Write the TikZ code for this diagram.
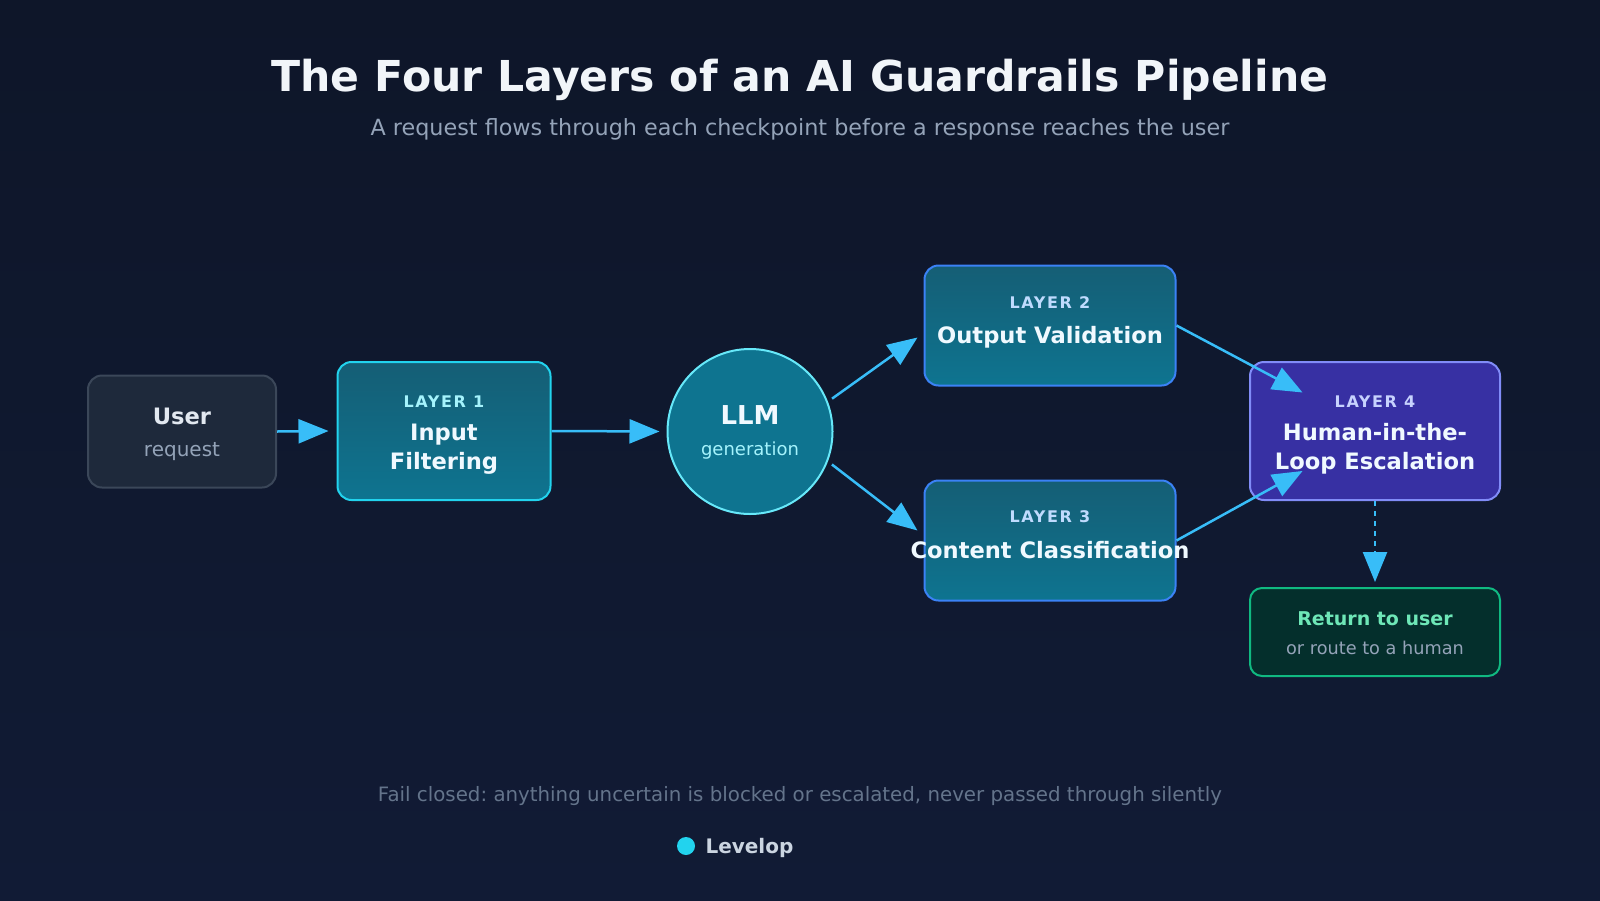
\documentclass[tikz,border=0pt]{standalone}
\usepackage{fontspec}
\setmainfont{DejaVu Sans}
\newfontfamily\layerfont[LetterSpace=10]{DejaVu Sans}
\usetikzlibrary{arrows.meta,calc}
\frenchspacing
\definecolor{bgtop}{HTML}{0E1629}
\definecolor{bgbot}{HTML}{111B35}
\definecolor{titlec}{HTML}{F1F5F9}
\definecolor{subc}{HTML}{94A3B8}
\definecolor{footc}{HTML}{64748B}
\definecolor{brandc}{HTML}{CBD5E1}
\definecolor{logoc}{HTML}{22D3EE}
\definecolor{userfill}{HTML}{1E293B}
\definecolor{userline}{HTML}{3B4759}
\definecolor{usertext}{HTML}{E2E8F0}
\definecolor{tealtop}{HTML}{155E75}
\definecolor{tealbot}{HTML}{0E7490}
\definecolor{cyanline}{HTML}{22D3EE}
\definecolor{llmline}{HTML}{67E8F9}
\definecolor{blueline}{HTML}{3B82F6}
\definecolor{lbcyan}{HTML}{A5F3FC}
\definecolor{lbblue}{HTML}{BFDBFE}
\definecolor{lbindigo}{HTML}{C7D2FE}
\definecolor{indfill}{HTML}{3730A3}
\definecolor{indline}{HTML}{818CF8}
\definecolor{retfill}{HTML}{042F2C}
\definecolor{retline}{HTML}{10B981}
\definecolor{rettext}{HTML}{6EE7B7}
\definecolor{boxtext}{HTML}{F0F9FF}
\definecolor{arrowc}{HTML}{38BDF8}
\tikzset{
  box/.style={draw, line width=2pt, rounded corners=14pt, inner sep=0pt},
  teal/.style={box, top color=tealtop, bottom color=tealbot},
  arr/.style={draw=arrowc, line width=2.5pt, -{Triangle[length=30pt,width=24pt]}},
  lay/.style={anchor=base, font=\layerfont\bfseries\fontsize{16}{19}\selectfont},
  big/.style={anchor=base, text=boxtext, font=\bfseries\fontsize{22.6}{27}\selectfont},
}
\begin{document}
\begin{tikzpicture}[x=1pt,y=-1pt]
\useasboundingbox (0,0) rectangle (1600,900);
\shade[top color=bgtop,bottom color=bgbot] (0,0) rectangle (1600,900);

% title
\node[anchor=base, text=titlec, font=\bfseries\fontsize{42.6}{50}\selectfont] (title) at (800,91) {The Four Layers of an AI Guardrails Pipeline};
\node[anchor=base, text=subc, font=\fontsize{22.3}{26}\selectfont] (sub) at (800,135) {A request flows through each checkpoint before a response reaches the user};

% boxes
\node[box, fill=userfill, draw=userline, minimum width=188pt, minimum height=112pt] (user) at (182,431.5) {};
\node[teal, draw=cyanline, minimum width=213pt, minimum height=138pt] (l1) at (444,431) {};
\node[circle, draw=llmline, fill=tealbot, line width=2pt, minimum size=165pt, inner sep=0pt] (llm) at (750,431.5) {};
\node[teal, draw=blueline, minimum width=251pt, minimum height=120pt] (l2) at (1050,325.5) {};
\node[teal, draw=blueline, minimum width=251pt, minimum height=120pt] (l3) at (1050,540.5) {};
\node[box, fill=indfill, draw=indline, minimum width=250pt, minimum height=138pt] (l4) at (1375,431) {};
\node[box, rounded corners=12pt, fill=retfill, draw=retline, minimum width=250pt, minimum height=88pt] (ret) at (1375,632) {};

% texts
\node[big, text=usertext] (userT) at (182,424) {User};
\node[anchor=base, text=subc, font=\fontsize{20}{24}\selectfont] (userS) at (182,456) {request};

\node[lay, text=lbcyan] (l1a) at (444,407.5) {LAYER 1};
\node[big] (l1b) at (444,440) {Input};
\node[big] (l1c) at (444,469.5) {Filtering};

\node[anchor=base, text=boxtext, font=\bfseries\fontsize{26}{30}\selectfont] (llmT) at (750,424.5) {LLM};
\node[anchor=base, text=lbcyan, font=\fontsize{18}{22}\selectfont] (llmS) at (750,455) {generation};

\node[lay, text=lbblue] (l2a) at (1050,308) {LAYER 2};
\node[big] (l2b) at (1050,343) {Output Validation};

\node[lay, text=lbblue] (l3a) at (1050,522) {LAYER 3};
\node[big] (l3b) at (1050,558) {Content Classification};

\node[lay, text=lbindigo] (l4a) at (1375,407.5) {LAYER 4};
\node[big] (l4b) at (1375,440) {Human-in-the-};
\node[big] (l4c) at (1375,469.5) {Loop Escalation};

\node[anchor=base, text=rettext, font=\bfseries\fontsize{19}{23}\selectfont] (retT) at (1375,625) {Return to user};
\node[anchor=base, text=subc, font=\fontsize{17.7}{21}\selectfont] (retS) at (1375,654) {or route to a human};

% connectors
\draw[arr] (user.east) -- ([xshift=-8pt]l1.west);
\draw[arr, shorten >=7pt] (l1.east) -- (llm.west);
\draw[arr, shorten <=5pt] (llm.21) -- ([xshift=-6pt,yshift=-12pt]l2.west);
\draw[arr, shorten <=5pt] (llm.-21) -- ([xshift=-6pt,yshift=10pt]l3.west);
\draw[arr] (l2.east) -- ($(l2.east)!0.635!(l4.center)$);
\draw[arr] (l3.east) -- ($(l3.east)!0.635!(l4.center)$);
\draw[arr, dash pattern=on 5pt off 5pt, shorten >=5pt] (l4.south) -- (ret.north);

% footer
\node[anchor=base, text=footc, font=\fontsize{19.8}{23}\selectfont] (foot) at (800,801) {Fail closed: anything uncertain is blocked or escalated, never passed through silently};
\node[circle, fill=logoc, minimum size=18pt, inner sep=0pt] (dot) at (686,846) {};
\node[anchor=base west, text=brandc, font=\bfseries\fontsize{20}{24}\selectfont] (brand) at (702,853) {Levelop};
\end{tikzpicture}
\end{document}
